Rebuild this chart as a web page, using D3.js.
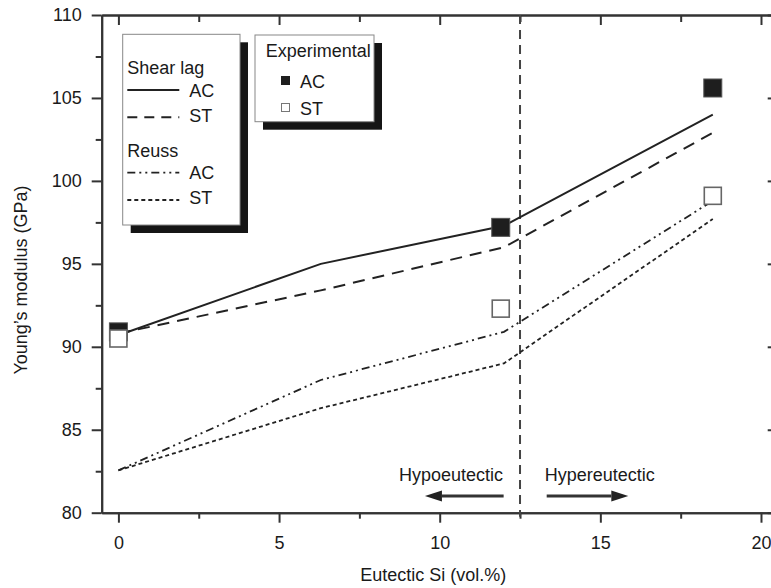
<!DOCTYPE html>
<html>
<head>
<meta charset="utf-8">
<script src="https://cdn.jsdelivr.net/npm/d3@7"></script>
<style>
  body { margin: 0; background: #fff; }
  svg text { font-family: "Liberation Sans", Arial, sans-serif; fill: #1a1a1a; }
</style>
</head>
<body>
<script>
// values
const siVol = [0, 6.3, 12, 18.5];
const shearLagAC = [90.7, 95.0, 97.3, 104.0];
const shearLagST = [90.8, 93.4, 96.0, 102.9];
const reussAC = [82.55, 88.0, 90.9, 98.8];
const reussST = [82.55, 86.3, 89.0, 97.7];

const expSi = [0, 11.9, 18.5];
const expAC = [90.9, 97.2, 105.6];
const expST = [90.5, 92.3, 99.1];

const xTicks = [0, 5, 10, 15, 20];
const xMinor = [2.5, 7.5, 12.5, 17.5];
const yTicks = [80, 85, 90, 95, 100, 105, 110];
const yMinor = [82.5, 87.5, 92.5, 97.5, 102.5, 107.5];
const eutecticLine = 12.5;

const width = 771, height = 588;
const plotLeft = 101.7, plotRight = 777.7, plotTop = 15, plotBottom = 512.7;

let svg = d3.select("body").append("svg")
  .attr("width", width)
  .attr("height", height);

let x = d3.scaleLinear().domain([-0.52, 20.52]).range([plotLeft, plotRight]);
let y = d3.scaleLinear().domain([80, 110]).range([plotBottom, plotTop]);

const ink = "#222";

function styleAxis(g) {
  g.selectAll("path.domain").attr("stroke", "#333").attr("stroke-width", 2);
  g.selectAll(".tick line").attr("stroke", "#333").attr("stroke-width", 2);
  g.selectAll(".tick text").attr("font-size", 18).attr("fill", "#1a1a1a")
    .attr("font-family", "Liberation Sans, Arial, sans-serif");
}

// axes: outward ticks bottom/left, inward ticks top/right
svg.append("g").attr("transform", `translate(0,${plotBottom})`)
  .call(d3.axisBottom(x).tickValues(xMinor).tickSize(6).tickSizeOuter(0).tickFormat(""))
  .call(styleAxis);
svg.append("g").attr("transform", `translate(0,${plotBottom})`)
  .call(d3.axisBottom(x).tickValues(xTicks).tickSize(10).tickSizeOuter(0).tickPadding(14))
  .call(styleAxis);
svg.append("g").attr("transform", `translate(0,${plotTop})`)
  .call(d3.axisBottom(x).tickValues(xMinor).tickSize(7).tickSizeOuter(0).tickFormat(""))
  .call(styleAxis);
svg.append("g").attr("transform", `translate(0,${plotTop})`)
  .call(d3.axisBottom(x).tickValues(xTicks).tickSize(10).tickSizeOuter(0).tickFormat(""))
  .call(styleAxis);

svg.append("g").attr("transform", `translate(${plotLeft},0)`)
  .call(d3.axisLeft(y).tickValues(yMinor).tickSize(6).tickSizeOuter(0).tickFormat(""))
  .call(styleAxis);
svg.append("g").attr("transform", `translate(${plotLeft},0)`)
  .call(d3.axisLeft(y).tickValues(yTicks).tickSize(10).tickSizeOuter(0).tickPadding(10))
  .call(styleAxis);
svg.append("g").attr("transform", `translate(${plotRight},0)`)
  .call(d3.axisRight(y).tickValues(yTicks).tickSize(-10).tickSizeOuter(0).tickFormat(""))
  .call(styleAxis);

// axis titles
svg.append("text")
  .attr("x", (plotLeft + 761) / 2 + 2).attr("y", 581)
  .attr("text-anchor", "middle").attr("font-size", 18)
  .text("Eutectic Si (vol.%)");

svg.append("text")
  .attr("transform", "translate(27,280) rotate(-90)")
  .attr("text-anchor", "middle").attr("font-size", 18)
  .text("Young\u2019s modulus (GPa)");

// eutectic boundary
svg.append("line")
  .attr("x1", x(eutecticLine)).attr("x2", x(eutecticLine))
  .attr("y1", y(110)).attr("y2", y(80) + 4)
  .attr("stroke", "#444").attr("stroke-width", 2)
  .attr("stroke-dasharray", "9,6");

// model curves
const series = [
  { name: "shearAC", values: shearLagAC, dash: null, w: 2 },
  { name: "shearST", values: shearLagST, dash: "12,8", w: 2 },
  { name: "reussAC", values: reussAC, dash: "8,4,2,4,2,4", w: 1.8 },
  { name: "reussST", values: reussST, dash: "4,3", w: 1.8 }
];

let line = d3.line()
  .x(function(d) { return x(d[0]); })
  .y(function(d) { return y(d[1]); });

series.forEach(function(s) {
  svg.append("path")
    .datum(siVol.map(function(v, i) { return [v, s.values[i]]; }))
    .attr("d", line)
    .attr("fill", "none")
    .attr("stroke", ink)
    .attr("stroke-width", s.w)
    .attr("stroke-dasharray", s.dash);
});

// experimental points
svg.append("g").selectAll("rect")
  .data(expSi.map(function(v, i) { return [v, expAC[i]]; }))
  .enter().append("rect")
  .attr("x", function(d) { return x(d[0]) - 9; })
  .attr("y", function(d) { return y(d[1]) - 9; })
  .attr("width", 18).attr("height", 18)
  .attr("fill", "#1e1e1e").attr("stroke", "#555").attr("stroke-width", 1);

svg.append("g").selectAll("rect")
  .data(expSi.map(function(v, i) { return [v, expST[i]]; }))
  .enter().append("rect")
  .attr("x", function(d) { return x(d[0]) - 8.5; })
  .attr("y", function(d) { return y(d[1]) - 8.5; })
  .attr("width", 17).attr("height", 17)
  .attr("fill", "#fff").attr("stroke", "#666").attr("stroke-width", 1.6);

// hypo / hyper annotation
const annY = y(81.0);
svg.append("text").attr("x", x(12) - 1).attr("y", 480.7)
  .attr("text-anchor", "end").attr("font-size", 18).text("Hypoeutectic");
svg.append("text").attr("x", x(13.3) - 1).attr("y", 480.7)
  .attr("font-size", 18).text("Hypereutectic");

function arrow(from, to) {
  let dir = to > from ? 1 : -1;
  let tip = x(to), base = tip - dir * 17;
  svg.append("line")
    .attr("x1", x(from)).attr("x2", base)
    .attr("y1", annY).attr("y2", annY)
    .attr("stroke", "#333").attr("stroke-width", 3);
  svg.append("path")
    .attr("d", `M${tip},${annY} L${base},${annY - 5.5} L${base},${annY + 5.5} Z`)
    .attr("fill", "#222");
}
arrow(11.99, 9.54);
arrow(13.33, 15.87);

// legend boxes
function legendBox(bx, by, bw, bh) {
  svg.append("rect").attr("x", bx + 8).attr("y", by + 8)
    .attr("width", bw).attr("height", bh).attr("fill", "#151515");
  svg.append("rect").attr("x", bx).attr("y", by)
    .attr("width", bw).attr("height", bh)
    .attr("fill", "#fff").attr("stroke", "#888").attr("stroke-width", 1);
}

legendBox(122.7, 34.3, 117.3, 190.7);
legendBox(255, 35, 119, 86.7);

let lg = svg.append("g");
lg.append("text").attr("x", 127.3).attr("y", 74).attr("font-size", 18).text("Shear lag");
lg.append("text").attr("x", 127.3).attr("y", 156.7).attr("font-size", 18).text("Reuss");

const legendRows = [
  { label: "AC", s: series[0], ly: 90, ty: 96.7 },
  { label: "ST", s: series[1], ly: 117.3, ty: 121.7 },
  { label: "AC", s: series[2], ly: 172.7, ty: 179.3 },
  { label: "ST", s: series[3], ly: 200, ty: 204.3 }
];
legendRows.forEach(function(r) {
  lg.append("line")
    .attr("x1", 127.3).attr("x2", 179.3)
    .attr("y1", r.ly).attr("y2", r.ly)
    .attr("stroke", ink).attr("stroke-width", r.s.w)
    .attr("stroke-dasharray", r.s.name === "shearST" ? "10,7" : r.s.dash);
  lg.append("text").attr("x", 189.3).attr("y", r.ty).attr("font-size", 18).text(r.label);
});

lg.append("text").attr("x", 265.7).attr("y", 56.7).attr("font-size", 18).text("Experimental");
lg.append("rect").attr("x", 281).attr("y", 76).attr("width", 9).attr("height", 9)
  .attr("fill", "#1e1e1e");
lg.append("text").attr("x", 300).attr("y", 88.3).attr("font-size", 18).text("AC");
lg.append("rect").attr("x", 281.5).attr("y", 103.5).attr("width", 8).attr("height", 8)
  .attr("fill", "#fff").attr("stroke", "#777").attr("stroke-width", 1);
lg.append("text").attr("x", 300).attr("y", 115).attr("font-size", 18).text("ST");
</script>
</body>
</html>
